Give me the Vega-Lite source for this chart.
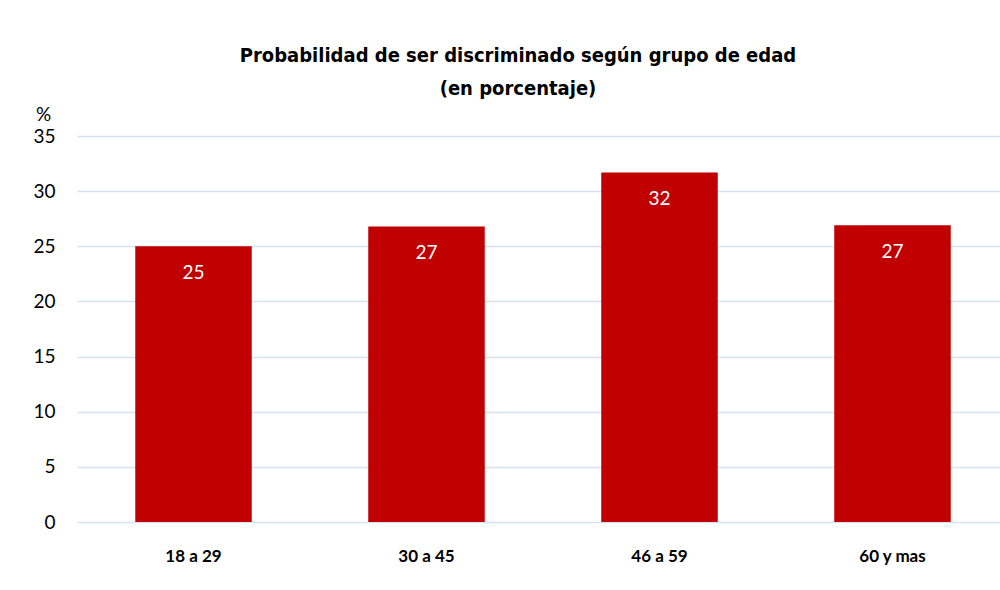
{
  "$schema": "https://vega.github.io/schema/vega-lite/v6.json",
  "autosize": {"type": "none"},
  "padding": {"left": 77, "top": 136, "right": 0, "bottom": 68},
  "width": 932,
  "height": 386,
  "background": "white",
  "title": {
    "text": ["Probabilidad de ser discriminado según grupo de edad", "(en porcentaje)"],
    "font": "DejaVu Sans Condensed, Roboto, sans-serif",
    "fontSize": 20,
    "fontWeight": "bold",
    "color": "#000000",
    "lineHeight": 33,
    "anchor": "middle",
    "dx": -25,
    "offset": 6
  },
  "data": {
    "values": [
      {"grupo": "18 a 29", "valor": 25.0},
      {"grupo": "30 a 45", "valor": 26.8},
      {"grupo": "46 a 59", "valor": 31.7},
      {"grupo": "60 y mas", "valor": 26.9}
    ]
  },
  "encoding": {
    "x": {
      "field": "grupo",
      "type": "nominal",
      "sort": null,
      "scale": {"paddingInner": 0.5, "paddingOuter": 0.25},
      "axis": {
        "title": null,
        "labelAngle": 0,
        "labelFont": "Lato",
        "labelFontSize": 17,
        "labelFontWeight": "bold",
        "labelColor": "#000000",
        "labelPadding": 26,
        "domain": false,
        "ticks": false
      }
    },
    "y": {
      "field": "valor",
      "type": "quantitative",
      "scale": {"domain": [0, 35], "nice": false},
      "axis": {
        "values": [0, 5, 10, 15, 20, 25, 30, 35],
        "title": "%",
        "titleAngle": 0,
        "titleX": -34,
        "titleY": -22,
        "titleAlign": "center",
        "titleBaseline": "middle",
        "titleFont": "Lato",
        "titleFontSize": 19,
        "titleFontWeight": "normal",
        "titleColor": "#000000",
        "labelFont": "Lato",
        "labelFontSize": 19,
        "labelColor": "#000000",
        "labelPadding": 22,
        "domain": false,
        "ticks": false,
        "grid": true,
        "gridColor": "#D6E2F2",
        "gridWidth": 1.5
      }
    }
  },
  "layer": [
    {"mark": {"type": "bar", "color": "#C00000"}},
    {
      "mark": {"type": "text", "color": "#FFFFFF", "font": "Lato", "fontSize": 19, "baseline": "middle", "dy": 27},
      "encoding": {"text": {"field": "valor", "type": "quantitative", "format": ".0f"}}
    }
  ],
  "config": {"view": {"stroke": null}}
}
